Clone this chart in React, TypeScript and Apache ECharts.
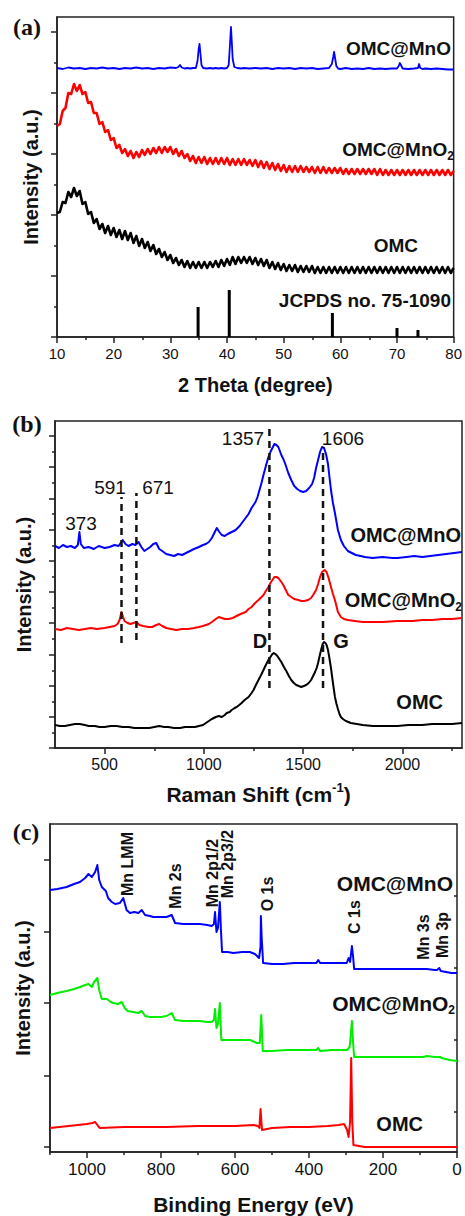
import React, { useEffect, useRef } from "react";
import * as echarts from "echarts";

// ---------------- (a) XRD ----------------
const XRD_X_MAJOR = [10, 20, 30, 40, 50, 60, 70, 80];
const XRD_X_MINOR = [15, 25, 35, 45, 55, 65, 75];
const XRD_Y_MAJOR = [0, 61, 122, 183, 244, 305];
const XRD_Y_MINOR = [30.5, 91.5, 152.5, 213.5, 274.5];

const XRD_OMC_MNO: [number, number][] = [
  [10, 269], [11, 268], [12, 269.5], [13, 268.5], [14, 269], [15, 268], [16, 269], [17, 268.5], [18, 269.5], [19, 268.5],
  [20, 269], [21, 268], [22, 269], [23, 268.5], [24, 269.5], [25, 268.5], [26, 269], [27, 268], [28, 269], [29, 268.5],
  [30, 269.5], [31, 269], [31.4, 270], [31.7, 272], [32, 269.5], [32.5, 268.5], [33, 269], [33.5, 268.5], [34, 269],
  [34.5, 269], [34.8, 276], [35.0, 288], [35.15, 293], [35.3, 284], [35.5, 272], [35.8, 269], [36.5, 268.5], [37, 269],
  [37.5, 268.5], [38, 269], [38.5, 268.5], [39, 269], [39.5, 268.5], [40, 269], [40.3, 272], [40.5, 290], [40.7, 310],
  [40.85, 295], [41.0, 278], [41.3, 270], [41.8, 269], [42.5, 268.5], [43, 269], [44, 268.5], [45, 269], [46, 268.5],
  [47, 269], [48, 268], [49, 269], [50, 268.5], [51, 269], [52, 268], [53, 269], [54, 268.5], [55, 269], [56, 268],
  [57, 268.5], [58, 269], [58.5, 273], [58.75, 280], [58.9, 285], [59.1, 278], [59.3, 271], [59.6, 268.5], [60, 268],
  [61, 269], [62, 268], [63, 268.5], [64, 268], [65, 269], [66, 268], [67, 268.5], [68, 268], [69, 268.5], [70, 268.5],
  [70.3, 271], [70.5, 274], [70.7, 272], [71, 268.5], [72, 268], [73, 268.5], [73.7, 269], [73.9, 273], [74.1, 269],
  [74.5, 268], [75, 268.5], [76, 268], [77, 268.5], [78, 268], [79, 267.5], [80, 267.5],
];

const XRD_OMC_MNO2: [number, number][] = [
  [10, 211], [10.5, 213], [11, 226], [11.5, 229], [12, 244], [12.5, 243], [13, 253], [13.5, 246], [14, 252], [14.5, 243],
  [15, 245], [15.5, 234], [16, 235], [16.5, 224], [17, 224], [17.5, 213], [18, 215], [18.5, 205], [19, 207], [19.5, 197],
  [20, 199], [20.5, 189], [21, 192], [21.5, 184], [22, 188], [22.5, 181], [23, 186], [23.5, 179], [24, 185], [24.5, 180],
  [25, 187], [25.5, 182], [26, 188], [26.5, 183], [27, 189], [27.5, 184], [28, 190], [28.5, 184], [29, 190], [29.5, 185],
  [30, 190], [30.5, 183], [31, 188], [31.5, 181], [32, 186], [32.5, 179], [33, 183], [33.5, 176], [34, 181], [34.5, 174],
  [35, 180], [35.5, 174], [36, 180], [36.5, 173], [37, 179], [37.5, 173], [38, 179], [38.5, 173], [39, 179], [39.5, 173],
  [40, 179], [40.5, 172], [41, 178], [41.5, 172], [42, 178], [42.5, 172], [43, 178], [43.5, 172], [44, 177], [44.5, 171],
  [45, 177], [45.5, 170], [46, 176], [46.5, 169], [47, 175], [47.5, 168], [48, 174], [48.5, 167], [49, 173], [49.5, 166],
  [50, 172], [50.5, 165], [51, 171], [51.5, 165], [52, 171], [52.5, 165], [53, 171], [53.5, 165], [54, 170], [54.5, 165],
  [55, 170], [55.5, 164], [56, 170], [56.5, 164], [57, 170], [57.5, 164], [58, 169], [58.5, 164], [59, 169], [59.5, 164],
  [60, 169], [60.5, 163], [61, 168], [61.5, 163], [62, 168], [62.5, 163], [63, 168], [63.5, 163], [64, 168], [64.5, 163],
  [65, 168], [65.5, 163], [66, 168], [66.5, 162], [67, 168], [67.5, 162], [68, 167], [68.5, 162], [69, 167], [69.5, 162],
  [70, 167], [70.5, 162], [71, 167], [71.5, 162], [72, 167], [72.5, 162], [73, 167], [73.5, 162], [74, 167], [74.5, 162],
  [75, 167], [75.5, 162], [76, 167], [76.5, 162], [77, 167], [77.5, 162], [78, 167], [78.5, 162], [79, 167], [79.5, 162],
  [80, 166],
];

const XRD_OMC: [number, number][] = [
  [10, 124], [10.5, 125], [11, 135], [11.5, 134], [12, 145], [12.5, 140], [13, 149], [13.5, 141], [14, 146], [14.5, 133],
  [15, 135], [15.5, 123], [16, 125], [16.5, 114], [17, 118], [17.5, 108], [18, 113], [18.5, 104], [19, 111], [19.5, 102],
  [20, 109], [20.5, 100], [21, 107], [21.5, 98], [22, 106], [22.5, 97], [23, 104], [23.5, 94], [24, 101], [24.5, 91],
  [25, 98], [25.5, 89], [26, 95], [26.5, 86], [27, 92], [27.5, 83], [28, 88], [28.5, 80], [29, 85], [29.5, 77],
  [30, 82], [30.5, 74], [31, 79], [31.5, 72], [32, 77], [32.5, 70], [33, 76], [33.5, 69], [34, 75], [34.5, 69],
  [35, 75], [35.5, 69], [36, 75], [36.5, 69], [37, 75], [37.5, 70], [38, 76], [38.5, 70], [39, 77], [39.5, 71],
  [40, 78], [40.5, 72], [41, 80], [41.5, 73], [42, 80], [42.5, 74], [43, 80], [43.5, 74], [44, 80], [44.5, 73],
  [45, 79], [45.5, 72], [46, 78], [46.5, 71], [47, 77], [47.5, 69], [48, 75], [48.5, 68], [49, 74], [49.5, 67],
  [50, 73], [50.5, 66], [51, 72], [51.5, 66], [52, 72], [52.5, 65], [53, 71], [53.5, 65], [54, 71], [54.5, 65],
  [55, 71], [55.5, 64], [56, 70], [56.5, 64], [57, 70], [57.5, 64], [58, 70], [58.5, 64], [59, 70], [59.5, 64],
  [60, 70], [60.5, 64], [61, 70], [61.5, 64], [62, 70], [62.5, 64], [63, 70], [63.5, 64], [64, 70], [64.5, 64],
  [65, 70], [65.5, 64], [66, 70], [66.5, 64], [67, 70], [67.5, 64], [68, 70], [68.5, 64], [69, 70], [69.5, 64],
  [70, 70], [70.5, 64], [71, 70], [71.5, 64], [72, 70], [72.5, 64], [73, 70], [73.5, 64], [74, 70], [74.5, 64],
  [75, 70], [75.5, 64], [76, 70], [76.5, 64], [77, 70], [77.5, 64], [78, 70], [78.5, 64], [79, 70], [79.5, 64],
  [80, 69],
];

const JCPDS_75_1090: [number, number][] = [
  [34.9, 30], [40.4, 47], [58.6, 24], [70.0, 9], [73.7, 7],
];

// ---------------- (b) Raman ----------------
const RAMAN_X_MAJOR = [500, 1000, 1500, 2000];
const RAMAN_X_MINOR = [750, 1250, 1750, 2250];
const RAMAN_Y_MAJOR = [0, 31, 62, 93.5, 125, 156, 187, 218.5, 249.5, 281, 312];
const RAMAN_Y_MINOR = [15.5, 46.5, 77.5, 109, 140.5, 171.5, 202.5, 234, 265.5, 296.5];

const RAMAN_OMC_MNO: [number, number][] = [
  [250, 202], [270, 200], [290, 203], [310, 201], [330, 202], [350, 200], [365, 203], [373, 216], [380, 204], [395, 200],
  [420, 201], [445, 199], [470, 202], [500, 200], [525, 201], [550, 203], [570, 202], [591, 208], [605, 204], [620, 202],
  [640, 204], [655, 203], [671, 206], [685, 201], [700, 197], [715, 199], [730, 201], [745, 204], [760, 205], [775, 199],
  [790, 197], [810, 194], [830, 193], [850, 192], [870, 194], [890, 193], [910, 195], [930, 197], [950, 199], [975, 201],
  [995, 203], [1010, 204], [1025, 206], [1040, 210], [1055, 216], [1065, 220], [1078, 216], [1090, 213], [1105, 212],
  [1120, 214], [1140, 216], [1160, 218], [1180, 222], [1195, 226], [1210, 230], [1225, 234], [1240, 240], [1260, 246],
  [1270, 251], [1280, 258], [1290, 265], [1300, 273], [1312, 282], [1325, 291], [1335, 296], [1345, 300], [1355, 304],
  [1365, 303], [1375, 301], [1390, 293], [1400, 289], [1410, 284], [1425, 275], [1440, 268], [1455, 262], [1470, 259],
  [1485, 257], [1500, 256], [1515, 257], [1530, 260], [1545, 264], [1555, 270], [1565, 280], [1575, 288], [1585, 296],
  [1595, 301], [1605, 300], [1615, 294], [1625, 284], [1633, 270], [1640, 258], [1650, 245], [1660, 235], [1675, 218],
  [1690, 208], [1705, 202], [1725, 197], [1745, 195], [1765, 193], [1790, 192], [1810, 191], [1850, 190], [1900, 191],
  [1950, 190], [1975, 190], [2020, 191], [2060, 192], [2100, 191], [2140, 192], [2180, 193], [2220, 194], [2260, 195],
  [2300, 196],
];

const RAMAN_OMC_MNO2: [number, number][] = [
  [250, 119], [280, 118], [310, 120], [340, 119], [370, 118], [400, 119], [430, 120], [460, 119], [500, 120], [525, 121],
  [550, 122], [565, 124], [575, 128], [585, 136], [593, 131], [600, 127], [615, 125], [630, 124], [645, 125], [660, 126],
  [675, 123], [695, 122], [720, 121], [740, 121], [760, 123], [775, 124], [790, 122], [810, 120], [835, 119], [860, 118],
  [890, 119], [920, 119], [950, 120], [975, 121], [995, 122], [1010, 123], [1025, 124], [1040, 126], [1060, 129],
  [1075, 131], [1090, 130], [1105, 129], [1125, 129], [1145, 130], [1165, 132], [1185, 134], [1210, 136], [1225, 139],
  [1240, 141], [1258, 145], [1275, 148], [1290, 151], [1300, 153], [1312, 157], [1325, 161], [1335, 165], [1345, 168],
  [1355, 171], [1365, 171], [1375, 170], [1390, 166], [1400, 163], [1410, 159], [1425, 153], [1440, 151], [1455, 149],
  [1475, 148], [1490, 147], [1505, 147], [1525, 148], [1540, 150], [1550, 153], [1565, 158], [1575, 164], [1585, 171],
  [1595, 176], [1608, 178], [1618, 176], [1628, 170], [1640, 161], [1650, 154], [1660, 148], [1675, 136], [1690, 131],
  [1705, 129], [1725, 128], [1760, 127], [1800, 126], [1850, 126], [1900, 126], [1975, 127], [2050, 127], [2100, 128],
  [2150, 128], [2200, 129], [2250, 129], [2300, 130],
];

const RAMAN_OMC: [number, number][] = [
  [250, 23], [275, 22], [300, 22], [325, 23], [350, 24], [375, 24], [400, 23], [420, 22], [450, 22], [475, 21],
  [500, 21], [530, 22], [560, 22], [590, 21], [620, 21], [650, 20], [680, 20], [700, 20], [725, 20], [750, 21],
  [775, 22], [800, 21], [820, 21], [850, 20], [880, 20], [905, 21], [930, 21], [955, 21], [975, 22], [995, 23],
  [1010, 25], [1025, 27], [1040, 29], [1060, 31], [1075, 32], [1090, 31], [1105, 33], [1115, 35], [1130, 36],
  [1140, 38], [1155, 40], [1165, 41], [1178, 43], [1190, 45], [1205, 48], [1225, 51], [1240, 55], [1250, 58],
  [1262, 63], [1275, 68], [1288, 73], [1300, 78], [1312, 83], [1325, 88], [1335, 91], [1345, 94], [1352, 95],
  [1360, 94], [1370, 92], [1380, 89], [1390, 86], [1403, 81], [1415, 77], [1428, 72], [1440, 68], [1453, 65],
  [1465, 63], [1478, 62], [1490, 61], [1503, 62], [1515, 63], [1528, 65], [1540, 68], [1550, 72], [1560, 76],
  [1568, 80], [1575, 85], [1583, 92], [1590, 98], [1598, 104], [1605, 106], [1612, 105], [1618, 103], [1625, 98],
  [1632, 90], [1640, 80], [1650, 65], [1660, 51], [1668, 44], [1675, 39], [1683, 34], [1690, 31], [1700, 29],
  [1715, 27], [1740, 25], [1770, 24], [1800, 23], [1850, 22], [1900, 22], [1950, 22], [1975, 22], [2030, 23],
  [2100, 23], [2150, 24], [2200, 24], [2250, 24], [2300, 25],
];

// dashed marker lines: Raman shift position, lower and upper intensity end
const RAMAN_MARKER_SHIFT = [585, 660, 1330, 1600];
const RAMAN_MARKER_LOW = [105, 108, 60, 60];
const RAMAN_MARKER_HIGH = [251, 255, 320, 301];

// ---------------- (c) XPS ----------------
const XPS_X_MAJOR = [0, 200, 400, 600, 800, 1000];
const XPS_X_MINOR = [100, 300, 500, 700, 900, 1100];
const XPS_Y_MAJOR = [5, 76, 149, 220, 292];
const XPS_Y_MINOR = [40, 112, 184, 256];

const XPS_OMC_MNO: [number, number][] = [
  [1100, 262], [1080, 263], [1055, 265], [1035, 268], [1019, 270], [1005, 274], [996, 278], [987, 275], [978, 280],
  [972, 287], [967, 272], [960, 265], [949, 261], [943, 254], [933, 250], [924, 248], [911, 249], [902, 254], [893, 242],
  [884, 239], [872, 240], [861, 239], [852, 242], [843, 237], [830, 236], [821, 235], [800, 235], [785, 235], [771, 237],
  [762, 229], [740, 228], [720, 228], [695, 228], [675, 227], [663, 226], [657, 228], [654, 240], [650, 220], [646, 224],
  [641, 250], [638, 222], [635, 200], [620, 200], [605, 199], [580, 200], [560, 200], [546, 198], [535, 194], [531, 205],
  [530, 236], [528, 215], [524, 189], [500, 188], [470, 188], [440, 189], [400, 189], [380, 189], [375, 192], [370, 189],
  [340, 189], [298, 189], [293, 194], [289, 190], [284, 206], [281, 196], [278, 183], [250, 183], [200, 183], [154, 183],
  [120, 183], [82, 183], [60, 182], [54, 182], [48, 184], [44, 181], [30, 180], [15, 179], [0, 179],
];

const XPS_OMC_MNO2: [number, number][] = [
  [1100, 157], [1080, 159], [1055, 161], [1035, 163], [1019, 165], [1005, 167], [996, 168], [987, 165], [981, 170],
  [972, 174], [967, 162], [960, 153], [946, 153], [936, 150], [929, 149], [916, 148], [906, 150], [898, 144], [890, 141],
  [875, 140], [862, 139], [852, 141], [843, 136], [830, 135], [821, 135], [800, 135], [785, 136], [771, 139], [762, 132],
  [740, 131], [720, 131], [695, 131], [675, 130], [663, 130], [657, 132], [654, 143], [650, 124], [646, 128], [641, 149],
  [637, 112], [620, 112], [605, 112], [580, 112], [559, 112], [541, 109], [533, 109], [529, 137], [525, 101], [500, 101],
  [460, 102], [420, 102], [380, 102], [375, 104], [370, 101], [340, 102], [297, 102], [290, 105], [284, 131], [281, 110],
  [278, 95], [250, 95], [200, 95], [150, 95], [90, 95], [82, 96], [60, 95], [46, 95], [41, 94], [20, 92], [0, 91],
];

const XPS_OMC: [number, number][] = [
  [1100, 24], [1050, 26], [1000, 28], [985, 29], [978, 30], [970, 26], [965, 24], [900, 25], [850, 25], [785, 25],
  [700, 26], [600, 26], [550, 27], [538, 26], [534, 24], [531, 43], [527, 22], [500, 24], [450, 25], [400, 25],
  [350, 26], [320, 27], [305, 28], [297, 22], [293, 15], [289, 30], [286, 94], [283, 30], [280, 7], [250, 5],
  [200, 5], [100, 5], [50, 5], [0, 5],
];

// ---------------- styling ----------------
const SANS = '"Liberation Sans", Arial, Helvetica, sans-serif';
const SERIF = '"Liberation Serif", "Times New Roman", serif';
const AXIS = "#222";
const INK = "#111";

const GRID_A = { left: 57, top: 17, width: 398, height: 320 };
const GRID_B = { left: 55, top: 421, width: 407, height: 327 };
const GRID_C = { left: 50, top: 824, width: 407, height: 328 };

function mainX(gi: number, min: number, max: number, majors: number[], fs: number, margin: number, name: string, nameGap: number, nameStyle: any, inverse = false) {
  return {
    type: "value", gridIndex: gi, min, max, inverse,
    axisLine: { show: true, onZero: false, lineStyle: { color: AXIS, width: 1.5 } },
    axisTick: { show: true, customValues: majors, length: 6, lineStyle: { color: AXIS, width: 1.5 } },
    axisLabel: {
      show: true, customValues: majors, fontSize: fs, color: INK, fontFamily: SANS, margin,
      showMinLabel: true, showMaxLabel: true, formatter: (v: number) => String(v),
    },
    splitLine: { show: false },
    name, nameLocation: "middle", nameGap, nameTextStyle: nameStyle,
  };
}
function minorAxis(gi: number, min: number, max: number, minors: number[], inverse = false) {
  return {
    type: "value", gridIndex: gi, min, max, inverse,
    axisLine: { show: false },
    axisTick: { show: true, customValues: minors, length: 3, lineStyle: { color: AXIS, width: 1.5 } },
    axisLabel: { show: false },
    splitLine: { show: false },
  };
}
function mainY(gi: number, min: number, max: number, majors: number[], nameGap: number) {
  return {
    type: "value", gridIndex: gi, min, max,
    axisLine: { show: true, onZero: false, lineStyle: { color: AXIS, width: 1.5 } },
    axisTick: { show: true, customValues: majors, length: 6, lineStyle: { color: AXIS, width: 1.5 } },
    axisLabel: { show: false },
    splitLine: { show: false },
    name: "Intensity (a.u.)", nameLocation: "middle", nameGap,
    nameTextStyle: { fontSize: 20, fontWeight: "bold", color: INK, fontFamily: SANS },
  };
}
function line(xi: number, data: [number, number][], color: string, width = 1.8) {
  return {
    type: "line", xAxisIndex: xi, yAxisIndex: xi, data, showSymbol: false, symbol: "none",
    lineStyle: { color, width, join: "round" }, itemStyle: { color }, silent: true,
  };
}
function txt(x: number, y: number, text: string, size: number, o: any = {}) {
  const align = o.align || "center";
  return {
    type: "text", x, y, silent: true, rotation: o.rotation || 0, z: 100,
    style: {
      text, fill: INK, fontSize: size, fontWeight: o.weight || "bold", fontFamily: o.family || SANS,
      align, textAlign: align, verticalAlign: "middle", textVerticalAlign: "middle",
      rich: o.rich,
    },
  };
}
function subLabel(x: number, y: number, size: number) {
  const base = { fill: INK, fontWeight: "bold", fontFamily: SANS };
  return txt(x, y, "{m|OMC@MnO}{s|2}", size, {
    align: "right",
    rich: {
      m: { ...base, fontSize: size, lineHeight: 26 },
      s: { ...base, fontSize: 12, lineHeight: 12, verticalAlign: "bottom" },
    },
  });
}

export default function App() {
  const ref = useRef<HTMLDivElement>(null);
  useEffect(() => {
    if (!ref.current) return;
    const chart = echarts.init(ref.current, undefined, { renderer: "svg" });
    const nameBold = (fs: number) => ({ fontSize: fs, fontWeight: "bold", color: INK, fontFamily: SANS });
    const ramanName = {
      color: INK, fontFamily: SANS,
      rich: {
        m: { fontSize: 21, fontWeight: "bold", color: INK, fontFamily: SANS, lineHeight: 26 },
        s: { fontSize: 13, fontWeight: "bold", color: INK, fontFamily: SANS, lineHeight: 12, verticalAlign: "top" },
      },
    };
    const markerSeries = RAMAN_MARKER_SHIFT.map((s, i) => ({
      type: "line", xAxisIndex: 2, yAxisIndex: 2,
      data: [[s, RAMAN_MARKER_LOW[i]], [s, RAMAN_MARKER_HIGH[i]]],
      showSymbol: false, symbol: "none", silent: true, z: 3,
      lineStyle: { color: "#111", width: 2.5, type: [7, 5] },
    }));
    const rot = Math.PI / 2;
    const option: any = {
      animation: false,
      backgroundColor: "#fff",
      textStyle: { fontFamily: SANS },
      grid: [
        { ...GRID_A, show: true, borderColor: AXIS, borderWidth: 1.5 },
        { ...GRID_A, show: false },
        { ...GRID_B, show: true, borderColor: AXIS, borderWidth: 1.5 },
        { ...GRID_B, show: false },
        { ...GRID_C, show: true, borderColor: AXIS, borderWidth: 1.5 },
        { ...GRID_C, show: false },
      ],
      xAxis: [
        mainX(0, 10, 80, XRD_X_MAJOR, 15, 9, "2 Theta (degree)", 38, nameBold(20)),
        minorAxis(1, 10, 80, XRD_X_MINOR),
        mainX(2, 250, 2300, RAMAN_X_MAJOR, 16, 8, "{m|Raman Shift (cm}{s|-1}{m|)}", 33, ramanName),
        minorAxis(3, 250, 2300, RAMAN_X_MINOR),
        mainX(4, 0, 1100, XPS_X_MAJOR, 17, 9, "Binding Energy (eV)", 42, nameBold(21), true),
        minorAxis(5, 0, 1100, XPS_X_MINOR, true),
      ],
      yAxis: [
        mainY(0, 0, 320, XRD_Y_MAJOR, 16),
        minorAxis(1, 0, 320, XRD_Y_MINOR),
        mainY(2, 0, 327, RAMAN_Y_MAJOR, 21),
        minorAxis(3, 0, 327, RAMAN_Y_MINOR),
        mainY(4, 0, 328, XPS_Y_MAJOR, 17),
        minorAxis(5, 0, 328, XPS_Y_MINOR),
      ],
      series: [
        line(0, XRD_OMC_MNO, "#0000ff", 1.8),
        line(0, XRD_OMC_MNO2, "#ff0000", 2.6),
        line(0, XRD_OMC, "#000000", 2.6),
        {
          type: "bar", xAxisIndex: 0, yAxisIndex: 0, data: JCPDS_75_1090, barWidth: 3,
          itemStyle: { color: "#000" }, silent: true,
        },
        line(2, RAMAN_OMC_MNO, "#0000ff", 2),
        line(2, RAMAN_OMC_MNO2, "#ff0000", 2),
        line(2, RAMAN_OMC, "#000000", 2),
        ...markerSeries,
        line(4, XPS_OMC_MNO, "#0000ff", 2),
        line(4, XPS_OMC_MNO2, "#00ee00", 2),
        line(4, XPS_OMC, "#ff0000", 2),
      ],
      graphic: [
        // panel letters
        txt(27, 27, "(a)", 24, { family: SERIF }),
        txt(27, 424, "(b)", 24, { family: SERIF }),
        txt(26, 832, "(c)", 24, { family: SERIF }),
        // (a) labels
        txt(451, 48, "OMC@MnO", 19, { align: "right" }),
        subLabel(454, 149, 19),
        txt(418, 245, "OMC", 19, { align: "right" }),
        txt(451, 300, "JCPDS no. 75-1090", 19, { align: "right" }),
        // (b) labels
        txt(461, 535, "OMC@MnO", 20, { align: "right" }),
        subLabel(462, 600, 20),
        txt(443, 702, "OMC", 20, { align: "right" }),
        txt(260, 641, "D", 20),
        txt(341, 641, "G", 20),
        txt(243, 438, "1357", 19, { weight: "normal" }),
        txt(343, 438, "1606", 19, { weight: "normal" }),
        txt(110, 487, "591", 19, { weight: "normal" }),
        txt(158, 487, "671", 19, { weight: "normal" }),
        txt(81, 523, "373", 19, { weight: "normal" }),
        // (c) labels
        txt(453, 883, "OMC@MnO", 21, { align: "right" }),
        subLabel(455, 1003, 21),
        txt(423, 1124, "OMC", 20, { align: "right" }),
        txt(127, 864, "Mn LMM", 16, { rotation: rot }),
        txt(175, 886, "Mn 2s", 16, { rotation: rot }),
        txt(212, 873, "Mn 2p1/2", 16, { rotation: rot }),
        txt(227, 864, "Mn 2p3/2", 16, { rotation: rot }),
        txt(267, 894, "O 1s", 16, { rotation: rot }),
        txt(354, 917, "C 1s", 16, { rotation: rot }),
        txt(423, 937, "Mn 3s", 16, { rotation: rot }),
        txt(442, 935, "Mn 3p", 16, { rotation: rot }),
      ],
    };
    chart.setOption(option);
    return () => chart.dispose();
  }, []);
  return (
    <div
      ref={ref}
      style={{ position: "absolute", left: 0, top: 0, width: 465, height: 1216, background: "#fff" }}
    />
  );
}
